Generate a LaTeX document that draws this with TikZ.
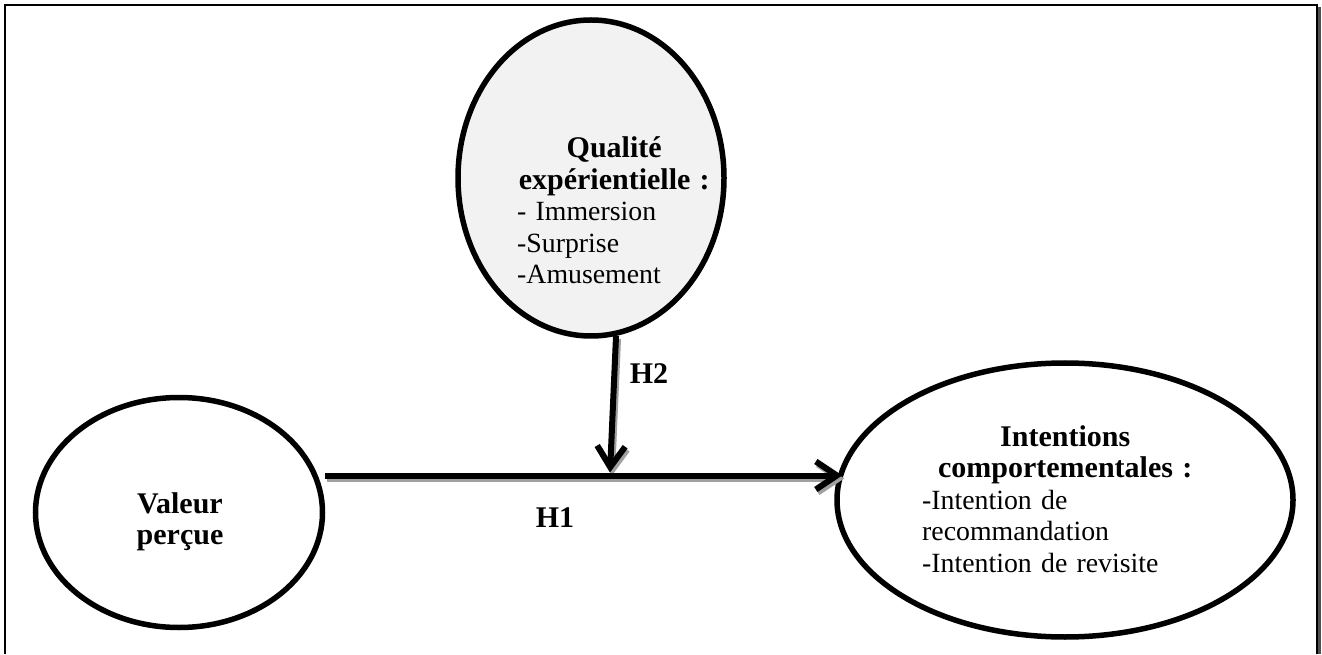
\documentclass[tikz,border=0pt]{standalone}
\usepackage{fontspec}
\setmainfont{Liberation Serif}
\usetikzlibrary{arrows.meta,shapes.geometric}
\definecolor{qfill}{HTML}{F2F2F2}
\definecolor{shade}{HTML}{A0A0A0}
\definecolor{frameshade}{HTML}{505050}
\newcommand{\titlefont}{\fontsize{30}{31.5}\selectfont\bfseries}
\begin{document}
\begin{tikzpicture}[x=1pt,y=1pt,
  construct/.style={ellipse, draw=black, line width=5.5pt, inner sep=0pt},
  labeltext/.style={font=\fontsize{27.8}{31.5}\selectfont, inner sep=0pt},
  hyp/.style={font=\titlefont, inner sep=0pt},
  link/.style={line width=6pt, -{Straight Barb[length=21pt,width=28pt]}},
  linkshadow/.style={link, draw=shade},
]
\path[use as bounding box, fill=white] (0,0) rectangle (1322,654);
% frame
\draw[frameshade, line width=2.5pt] (1319.5,0) -- (1319.5,647);
\draw[line width=1.8pt] (5,0) -- (5,649) -- (1317,649) -- (1317,0);

% constructs
\node[construct, fill=qfill, minimum width=266pt, minimum height=316pt] (qual) at (591,476) {};
\node[construct, minimum width=287pt, minimum height=230pt] (valeur) at (179,141.5) {};
\node[construct, minimum width=456pt, minimum height=274pt] (intent) at (1065,154) {};

% texts
\node[labeltext, text width=194pt, align=left, anchor=base west] (qualtext) at (517,496)
  {\makebox[\hsize]{\titlefont Qualité}\\
   \makebox[\hsize]{\titlefont expérientielle :}\\
   - Immersion\\-Surprise\\-Amusement};
\node[labeltext, font=\titlefont, text width=150pt, align=center, anchor=base] (valtext) at (180,141)
  {Valeur\\perçue};
\node[labeltext, text width=286pt, align=left, anchor=base west] (inttext) at (922,208)
  {\makebox[\hsize]{\titlefont Intentions}\\
   \makebox[\hsize]{\titlefont comportementales :}\\
   -Intention de\\recommandation\\-Intention de revisite};

% hypothesis labels
\node[hyp, anchor=base] (h1) at (555,127) {H1};
\node[hyp, anchor=base] (h2) at (649,271) {H2};

% connectors
\coordinate (mid) at (610,178.5);
\begin{scope}[transform canvas={shift={(2pt,-3pt)}}]
  \draw[linkshadow] (valeur.east |- mid) -- ([xshift=8pt]intent.west |- mid);
  \draw[linkshadow] (qual.-81.5) -- ([yshift=3pt]mid);
\end{scope}
\draw[link] (valeur.east |- mid) -- ([xshift=8pt]intent.west |- mid);
\draw[link] (qual.-81.5) -- ([yshift=3pt]mid);
\end{tikzpicture}
\end{document}
